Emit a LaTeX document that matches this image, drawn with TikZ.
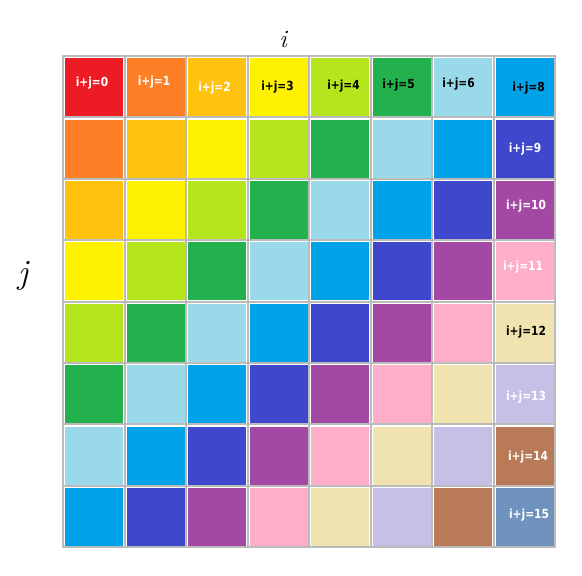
\documentclass[tikz,border=0pt]{standalone}
\usepackage{fontspec}
\newfontfamily\lblfont{DejaVu Sans}[FakeStretch=0.85]
\definecolor{c0}{HTML}{ED1C24}
\definecolor{c1}{HTML}{FF7F27}
\definecolor{c2}{HTML}{FFC20E}
\definecolor{c3}{HTML}{FFF200}
\definecolor{c4}{HTML}{B5E61D}
\definecolor{c5}{HTML}{22B14C}
\definecolor{c6}{HTML}{99D9EA}
\definecolor{c7}{HTML}{00A2E8}
\definecolor{c8}{HTML}{3F48CC}
\definecolor{c9}{HTML}{A349A4}
\definecolor{c10}{HTML}{FFAEC9}
\definecolor{c11}{HTML}{EFE4B0}
\definecolor{c12}{HTML}{C8BFE7}
\definecolor{c13}{HTML}{B97A57}
\definecolor{c14}{HTML}{7092BE}
\definecolor{gridgray}{HTML}{BBBBBB}
\tikzset{
  cellbox/.style={rectangle, draw=white, line width=1pt, inner sep=0pt, minimum width=59pt, minimum height=58.9pt},
  lbl/.style={inner sep=0pt, font=\lblfont\bfseries\fontsize{12.5}{14}\selectfont},
  axislbl/.style={inner sep=0pt},
}
\begin{document}
\begin{tikzpicture}[x=1pt,y=-1pt]
\useasboundingbox (0,0) rectangle (582,576);
\fill[white] (0,0) rectangle (582,576);
% cells
\foreach \i in {0,...,7}{
  \foreach \j in {0,...,7}{
    \pgfmathtruncatemacro{\k}{\i+\j}
    \node[cellbox, fill=c\k] (c-\i-\j) at ({63+61.5*\i+30.75+0.5},{56+61.4*\j+30.7+0.5}) {};
  }
}
% grid lines
\foreach \k in {0,...,8}{
  \draw[gridgray, line width=2pt] ({63+61.5*\k},55) -- ({63+61.5*\k},548.2);
  \draw[gridgray, line width=2pt] (62,{56+61.4*\k}) -- (556,{56+61.4*\k});
}
% labels
\node[lbl, white] (l0) at (92,83) {i+j=0};
\node[lbl, white] (l1) at (154,82.5) {i+j=1};
\node[lbl, white] (l2) at (214.5,88.5) {i+j=2};
\node[lbl, black] (l3) at (277.5,87.5) {i+j=3};
\node[lbl, black] (l4) at (343.5,86.5) {i+j=4};
\node[lbl, black] (l5) at (398.5,85) {i+j=5};
\node[lbl, black] (l6) at (458.5,84) {i+j=6};
\node[lbl, black] (l8) at (528.5,88.5) {i+j=8};
\node[lbl, white] (l9) at (525,149) {i+j=9};
\node[lbl, white] (l10) at (526,206) {i+j=10};
\node[lbl, white] (l11) at (523,267) {i+j=11};
\node[lbl, black] (l12) at (526,332) {i+j=12};
\node[lbl, white] (l13) at (526,397) {i+j=13};
\node[lbl, white] (l14) at (528,457) {i+j=14};
\node[lbl, white] (l15) at (529,515) {i+j=15};
% axis labels
\node[axislbl, font=\itshape\fontsize{25}{25}\selectfont] (ai) at (283,39) {i};
\node[axislbl, font=\itshape\fontsize{34}{34}\selectfont] (aj) at (23,276) {j};
\end{tikzpicture}
\end{document}
